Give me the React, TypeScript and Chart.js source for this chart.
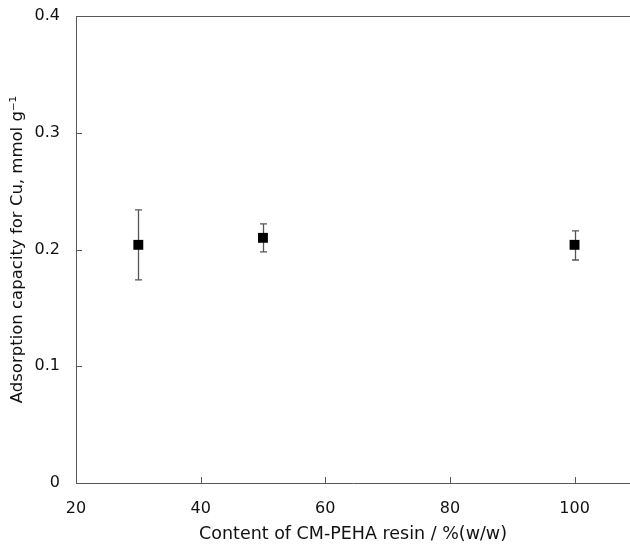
import React, { useEffect, useRef } from "react";
import { Chart, registerables } from "chart.js";

Chart.register(...registerables);

const contents = [30, 50, 100];
const capacity = [0.204, 0.210, 0.204];
const errPlus = [0.030, 0.012, 0.012];
const errMinus = [0.030, 0.012, 0.013];
const xTicks = [20, 40, 60, 80, 100];
const yTicks = [0, 0.1, 0.2, 0.3, 0.4];

const AXIS_COLOR = "#595959";
const FONT = "'DejaVu Sans', Verdana, sans-serif";

const decorPlugin = {
  id: "decor",
  beforeDatasetsDraw(chart: any) {
    const ctx = chart.ctx;
    const x = chart.scales.x;
    const y = chart.scales.y;
    const area = chart.chartArea;
    ctx.save();
    ctx.strokeStyle = AXIS_COLOR;
    ctx.lineWidth = 1;
    // top border
    ctx.beginPath();
    ctx.moveTo(area.left, Math.round(area.top) + 0.5);
    ctx.lineTo(chart.width, Math.round(area.top) + 0.5);
    ctx.stroke();
    // inward ticks
    ctx.beginPath();
    xTicks.forEach((v) => {
      if (v === xTicks[0]) return;
      const px = Math.round(x.getPixelForValue(v)) + 0.5;
      ctx.moveTo(px, area.bottom);
      ctx.lineTo(px, area.bottom - 6);
    });
    yTicks.forEach((v) => {
      if (v === 0 || v === 0.4) return;
      const py = Math.round(y.getPixelForValue(v)) + 0.5;
      ctx.moveTo(area.left, py);
      ctx.lineTo(area.left + 6, py);
    });
    ctx.stroke();
    // error bars
    ctx.strokeStyle = "#555555";
    ctx.lineWidth = 1.3;
    contents.forEach((c, i) => {
      const px = Math.round(x.getPixelForValue(c)) + 0.5;
      const top = y.getPixelForValue(capacity[i] + errPlus[i]);
      const bot = y.getPixelForValue(capacity[i] - errMinus[i]);
      ctx.beginPath();
      ctx.moveTo(px, top);
      ctx.lineTo(px, bot);
      ctx.moveTo(px - 3.5, top);
      ctx.lineTo(px + 3.5, top);
      ctx.moveTo(px - 3.5, bot);
      ctx.lineTo(px + 3.5, bot);
      ctx.stroke();
    });
    ctx.restore();
  },
};

export default function App() {
  const ref = useRef<HTMLCanvasElement>(null);
  useEffect(() => {
    if (!ref.current) return;
    const chart = new Chart(ref.current, {
      type: "scatter",
      data: {
        datasets: [
          {
            data: contents.map((c, i) => ({ x: c, y: capacity[i] })),
            pointStyle: "rect",
            pointRadius: 7,
            pointBackgroundColor: "#000000",
            pointBorderColor: "#000000",
            pointBorderWidth: 0,
          },
        ],
      },
      options: {
        animation: false,
        responsive: false,
        layout: { autoPadding: false, padding: { top: 16, left: 0, right: 0, bottom: 0 } },
        plugins: { legend: { display: false }, tooltip: { enabled: false } },
        scales: {
          x: {
            type: "linear",
            min: 20,
            max: 108.9,
            afterFit(scale: any) {
              scale.height = 62;
              scale.paddingLeft = 0;
              scale.paddingRight = 0;
            },
            afterBuildTicks(scale: any) {
              scale.ticks = xTicks.map((v) => ({ value: v }));
            },
            grid: { display: false, drawTicks: false },
            border: { display: true, color: AXIS_COLOR, width: 1 },
            ticks: {
              color: "#111",
              font: { family: FONT, size: 16 },
              padding: 16,
              maxRotation: 0,
              autoSkip: false,
            },
            title: {
              display: true,
              text: "Content of CM-PEHA resin / %(w/w)",
              color: "#111",
              font: { family: FONT, size: 17.5 },
              padding: { top: 0, bottom: 0 },
            },
          },
          y: {
            type: "linear",
            min: 0,
            max: 0.4,
            afterFit(scale: any) {
              scale.width = 76;
              scale.paddingTop = 0;
              scale.paddingBottom = 0;
            },
            afterBuildTicks(scale: any) {
              scale.ticks = yTicks.map((v) => ({ value: v }));
            },
            grid: { display: false, drawTicks: false },
            border: { display: true, color: AXIS_COLOR, width: 1 },
            ticks: {
              color: "#111",
              font: { family: FONT, size: 16 },
              padding: 16,
              callback: (v: any) => (Number(v) === 0 ? "0" : Number(v).toFixed(1)),
            },
            title: {
              display: true,
              text: "Adsorption capacity for Cu, mmol g\u207B\u00B9",
              color: "#111",
              font: { family: FONT, size: 16.5 },
              padding: { top: 8, bottom: 0 },
            },
          },
        },
      },
      plugins: [decorPlugin],
    });
    return () => chart.destroy();
  }, []);
  return (
    <div style={{ position: "fixed", left: 0, top: 0, width: 630, height: 545, background: "#fff" }}>
      <canvas ref={ref} width={630} height={545} style={{ display: "block" }} />
    </div>
  );
}
